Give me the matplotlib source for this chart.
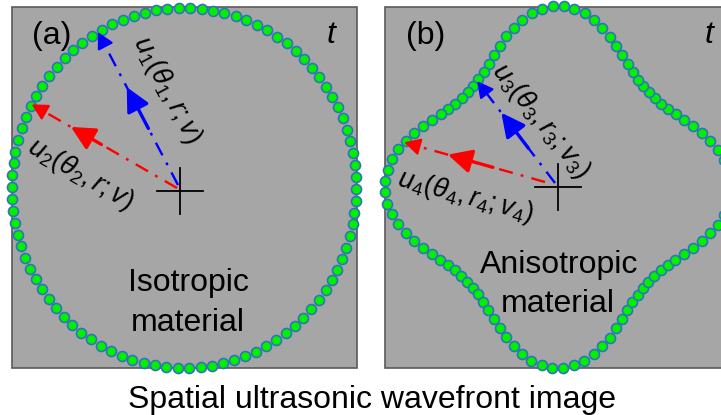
import numpy as np
import matplotlib
matplotlib.use("Agg")
import matplotlib.pyplot as plt
from matplotlib.patches import Rectangle, FancyArrowPatch

plt.rcParams['font.family'] = ['Liberation Sans', 'DejaVu Sans']
plt.rcParams['mathtext.fontset'] = 'custom'
plt.rcParams['mathtext.rm'] = 'Liberation Sans'
plt.rcParams['mathtext.it'] = 'Liberation Sans:italic'
plt.rcParams['mathtext.bf'] = 'Liberation Sans:bold'

# ---------------- data ----------------
panel_labels = ['(a)', '(b)']
time_label = 't'
material_line1 = ['Isotropic', 'Anisotropic']
material_line2 = ['material', 'material']
title_text = 'Spatial ultrasonic wavefront image'
wave_labels = [r'$u_1(\theta_1,r;v)$', r'$u_2(\theta_2,r;v)$',
               r'$u_3(\theta_3,r_3;v_3)$', r'$u_4(\theta_4,r_4;v_4)$']

# panel boxes (pixel frame)
box_left = [12, 385]
box_right = [357, 745]
box_top = 7
box_bottom = 368

# wavefront sources
src_x = [184, 558]
src_y = [188, 187]
x_squash = 0.956
iso_radius = 180
aniso_rmin = 134
aniso_rmax = 181
aniso_power = 2.3
n_dots = [94, 100]

# rays: panel index, angle (deg), origin, colour, mid-arrow fraction span
ray_panel = [0, 0, 1, 1]
ray_angle = [120.0, 152.3, 128.6, 164.5]
ray_origin_x = [178, 177, 555, 545]
ray_origin_y = [185, 188, 183, 182]
ray_color = ['#0000FF', '#FF0000', '#0000FF', '#FF0000']
ray_mid_from = [0.37, 0.52, 0.34, 0.37]
ray_mid_to = [0.64, 0.73, 0.69, 0.69]

# label placement (centre, rotation)
label_x = [167, 80, 541, 466]
label_y = [90, 174, 121, 197]
label_rot = [-62, -30, -51, -15]

W, H = 721, 415
fig = plt.figure(figsize=(W / 100, H / 100), dpi=100)
ax = fig.add_axes([0, 0, 1, 1])
ax.set_xlim(0, W)
ax.set_ylim(H, 0)
ax.axis('off')


def radius(panel, phi):
    if panel == 0:
        return np.full_like(phi, iso_radius, dtype=float)
    return aniso_rmin + (aniso_rmax - aniso_rmin) * np.abs(np.cos(2 * phi)) ** aniso_power


def point(panel, phi):
    r = radius(panel, phi)
    return src_x[panel] + x_squash * r * np.cos(phi), src_y[panel] - r * np.sin(phi)


for p in range(2):
    ax.add_patch(Rectangle((box_left[p], box_top), box_right[p] - box_left[p],
                           box_bottom - box_top, facecolor='#A6A6A6',
                           edgecolor='#5A5A5A', lw=1.2, zorder=1))
    phi = np.linspace(0, 2 * np.pi, n_dots[p], endpoint=False) + np.pi / 2 + 0.03
    xs, ys = point(p, phi)
    ax.plot(xs, ys, 'o', ms=7.2, mfc='#00F000', mec='#2E75B6', mew=1.2,
            zorder=3, clip_on=False)
    # crosshair
    cx, cy = src_x[p] - (4 if p == 0 else 0), src_y[p] + (3 if p == 0 else 0)
    ax.plot([cx - 23, cx + 23], [cy, cy], color='black', lw=1.3, zorder=4)
    ax.plot([cx, cx], [cy - 23, cy + 23], color='black', lw=1.3, zorder=4)
    ax.text(box_left[p] + (20 if p == 0 else 21), 44, panel_labels[p],
            fontsize=23, ha='left', va='baseline', zorder=6)
    ax.text(327 if p == 0 else 705, 43, time_label, fontsize=23,
            style='italic', ha='left', va='baseline', zorder=6)

ax.text(188, 291, material_line1[0], fontsize=23, ha='center', va='baseline', zorder=6)
ax.text(188, 331, material_line2[0], fontsize=23, ha='center', va='baseline', zorder=6)
ax.text(559, 273, material_line1[1], fontsize=23, ha='center', va='baseline', zorder=6)
ax.text(558, 312, material_line2[1], fontsize=23, ha='center', va='baseline', zorder=6)

for i in range(4):
    p = ray_panel[i]
    phi = np.deg2rad(ray_angle[i])
    tx, ty = point(p, np.array([phi]))
    tx, ty = float(tx[0]), float(ty[0])
    ox, oy = ray_origin_x[i], ray_origin_y[i]
    dx, dy = tx - ox, ty - oy
    L = np.hypot(dx, dy)
    ux, uy = dx / L, dy / L
    hl = 13
    col = ray_color[i]
    ax.plot([ox, tx - ux * hl], [oy, ty - uy * hl], color=col, lw=1.7,
            ls=(0, (6, 3.5, 1.2, 3.5)), zorder=5)
    ax.add_patch(FancyArrowPatch((tx - ux * (hl + 1), ty - uy * (hl + 1)), (tx, ty),
                                 arrowstyle='-|>,head_length=0.6,head_width=0.32',
                                 mutation_scale=16, color=col, lw=1.6,
                                 shrinkA=0, shrinkB=0, zorder=5))
    f0, f1 = ray_mid_from[i], ray_mid_to[i]
    ax.add_patch(FancyArrowPatch((ox + dx * f0, oy + dy * f0), (ox + dx * f1, oy + dy * f1),
                                 arrowstyle='-|>,head_length=0.8,head_width=0.4',
                                 mutation_scale=18, color=col, lw=2.4,
                                 shrinkA=0, shrinkB=0, zorder=5))
    ax.text(label_x[i], label_y[i], wave_labels[i], fontsize=19.5, rotation=label_rot[i],
            rotation_mode='anchor', ha='center', va='center', zorder=6)

ax.text(372, 408, title_text, fontsize=23, ha='center', va='baseline')

fig.savefig('out.png', dpi=100, facecolor='white')
